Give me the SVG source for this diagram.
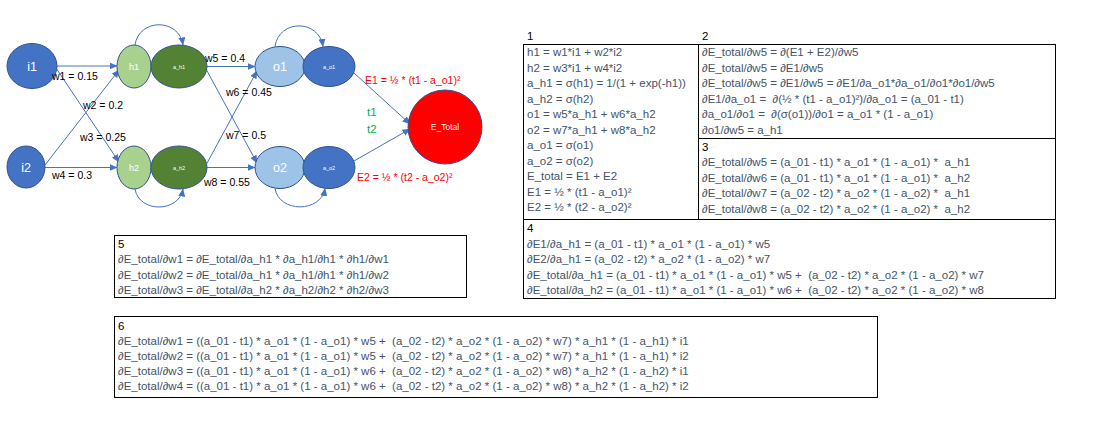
<svg xmlns="http://www.w3.org/2000/svg" width="1096" height="429" viewBox="0 0 1096 429">
<defs>
<marker id="arr" markerWidth="8" markerHeight="7" refX="7.5" refY="3.5" orient="auto" markerUnits="userSpaceOnUse"><path d="M0,0 L8,3.5 L0,7 z" fill="#4472C4"/></marker>
</defs>
<style>
.nd{stroke:#2F528F;stroke-width:1}
.lb{font-family:"Liberation Sans",Arial,sans-serif;fill:#fff;text-anchor:middle}
.w{font-family:"Liberation Sans",Arial,sans-serif;font-size:10.5px;fill:#000}
.red{font-family:"Liberation Sans",Arial,sans-serif;font-size:10.5px;fill:#FF0000}
.grn{font-family:"Liberation Sans",Arial,sans-serif;font-size:11.5px;fill:#00B050}
.cn{fill:none;stroke:#4472C4;stroke-width:1;marker-end:url(#arr)}
.bx{fill:none;stroke:#000;stroke-width:1}
.bt{font-family:"Liberation Sans",Arial,sans-serif;font-size:11.5px;fill:#44546A;white-space:pre}
.nm{font-family:"Liberation Sans",Arial,sans-serif;font-size:11.5px;fill:#000}
</style>
<rect width="1096" height="429" fill="#fff"/>

<g id="connectors">
<path class="cn" d="M57,66 L117,66"/>
<path class="cn" d="M56,68 L119,162"/>
<path class="cn" d="M45,165 L119,70"/>
<path class="cn" d="M45,167.5 L117,167.5"/>
<path class="cn" d="M207,66.5 L255,66.5"/>
<path class="cn" d="M206,69 L257,163"/>
<path class="cn" d="M206,165 L257,71"/>
<path class="cn" d="M207,167.5 L255,167.5"/>
<path class="cn" d="M354,73 L410,124"/>
<path class="cn" d="M354,161 L410,129"/>
<path class="cn" d="M135,45 C139,18 179,18 183,45"/>
<path class="cn" d="M135,189 C139,213 179,213 183,189"/>
<path class="cn" d="M275,46.5 C279,19 319,19 323,46.5"/>
<path class="cn" d="M275,188.5 C279,213 321,213 325,188.5"/>
</g>

<g id="i1"><ellipse class="nd" cx="32" cy="66" rx="25" ry="22.5" fill="#4472C4"/><text class="lb" x="32" y="70.5" font-size="12.5">i1</text></g>
<g id="i2"><ellipse class="nd" cx="26" cy="167" rx="19" ry="21" fill="#4472C4"/><text class="lb" x="26" y="171.5" font-size="12.5">i2</text></g>
<g id="h1"><ellipse class="nd" cx="134" cy="66.5" rx="17" ry="21.5" fill="#A9D18E"/><text class="lb" x="134" y="69.5" font-size="9">h1</text></g>
<g id="a_h1"><ellipse class="nd" cx="179" cy="66.5" rx="28" ry="21.5" fill="#548235"/><text class="lb" x="179" y="68.5" font-size="5.5">a_h1</text></g>
<g id="h2"><ellipse class="nd" cx="134" cy="167.5" rx="17" ry="21.5" fill="#A9D18E"/><text class="lb" x="134" y="170.5" font-size="9">h2</text></g>
<g id="a_h2"><ellipse class="nd" cx="179" cy="167.5" rx="28" ry="21.5" fill="#548235"/><text class="lb" x="179" y="169.5" font-size="5.5">a_h2</text></g>
<g id="o1"><ellipse class="nd" cx="280" cy="66.5" rx="25" ry="20" fill="#9DC3E6"/><text class="lb" x="280" y="71" font-size="12.5">o1</text></g>
<g id="a_o1"><ellipse class="nd" cx="329" cy="66.5" rx="26" ry="20" fill="#4472C4"/><text class="lb" x="329" y="68.5" font-size="5.5">a_o1</text></g>
<g id="o2"><ellipse class="nd" cx="280" cy="167.5" rx="25" ry="21" fill="#9DC3E6"/><text class="lb" x="280" y="172" font-size="12.5">o2</text></g>
<g id="a_o2"><ellipse class="nd" cx="329" cy="167.5" rx="26" ry="21" fill="#4472C4"/><text class="lb" x="329" y="169.5" font-size="5.5">a_o2</text></g>
<g id="E_Total"><circle class="nd" cx="445" cy="127" r="37" fill="#FF0000"/><text class="lb" x="445" y="130" font-size="8.5">E_Total</text></g>

<g id="weights">
<text class="w" x="52" y="80">w1 = 0.15</text>
<text class="w" x="83" y="109">w2 = 0.2</text>
<text class="w" x="80" y="141">w3 = 0.25</text>
<text class="w" x="52" y="179">w4 = 0.3</text>
<text class="w" x="205" y="62">w5 = 0.4</text>
<text class="w" x="226" y="96">w6 = 0.45</text>
<text class="w" x="226" y="139">w7 = 0.5</text>
<text class="w" x="204" y="186">w8 = 0.55</text>
<text class="red" x="365" y="84">E1 = ½ * (t1 - a_o1)²</text>
<text class="red" x="357" y="181">E2 = ½ * (t2 - a_o2)²</text>
<text class="grn" x="367" y="116">t1</text>
<text class="grn" x="367" y="133">t2</text>
</g>

<g id="box1">
<text class="nm" x="527" y="40">1</text>
<text class="bt" x="527" y="56">h1 = w1*i1 + w2*i2</text>
<text class="bt" x="527" y="71.5">h2 = w3*i1 + w4*i2</text>
<text class="bt" x="527" y="87">a_h1 = σ(h1) = 1/(1 + exp(-h1))</text>
<text class="bt" x="527" y="102.5">a_h2 = σ(h2)</text>
<text class="bt" x="527" y="118">o1 = w5*a_h1 + w6*a_h2</text>
<text class="bt" x="527" y="133.5">o2 = w7*a_h1 + w8*a_h2</text>
<text class="bt" x="527" y="149">a_o1 = σ(o1)</text>
<text class="bt" x="527" y="164.5">a_o2 = σ(o2)</text>
<text class="bt" x="527" y="180">E_total = E1 + E2</text>
<text class="bt" x="527" y="195.5">E1 = ½ * (t1 - a_o1)²</text>
<text class="bt" x="527" y="211">E2 = ½ * (t2 - a_o2)²</text>
</g>
<g id="box2">
<text class="nm" x="702" y="40">2</text>
<text class="bt" x="702" y="56">∂E_total/∂w5 = ∂(E1 + E2)/∂w5</text>
<text class="bt" x="702" y="71.5">∂E_total/∂w5 = ∂E1/∂w5</text>
<text class="bt" x="702" y="87">∂E_total/∂w5 = ∂E1/∂w5 = ∂E1/∂a_o1*∂a_o1/∂o1*∂o1/∂w5</text>
<text class="bt" x="702" y="102.5">∂E1/∂a_o1 =  ∂(½ * (t1 - a_o1)²)/∂a_o1 = (a_01 - t1)</text>
<text class="bt" x="702" y="118">∂a_o1/∂o1 =  ∂(σ(o1))/∂o1 = a_o1 * (1 - a_o1)</text>
<text class="bt" x="702" y="133.5">∂o1/∂w5 = a_h1</text>
</g>
<g id="box3">
<text class="nm" x="702" y="150.5">3</text>
<text class="bt" x="702" y="166">∂E_total/∂w5 = (a_01 - t1) * a_o1 * (1 - a_o1) *  a_h1</text>
<text class="bt" x="702" y="181.5">∂E_total/∂w6 = (a_01 - t1) * a_o1 * (1 - a_o1) *  a_h2</text>
<text class="bt" x="702" y="197">∂E_total/∂w7 = (a_02 - t2) * a_o2 * (1 - a_o2) *  a_h1</text>
<text class="bt" x="702" y="212.5">∂E_total/∂w8 = (a_02 - t2) * a_o2 * (1 - a_o2) *  a_h2</text>
</g>
<g id="box4">
<text class="nm" x="527" y="232">4</text>
<text class="bt" x="527" y="247.5">∂E1/∂a_h1 = (a_01 - t1) * a_o1 * (1 - a_o1) * w5</text>
<text class="bt" x="527" y="263">∂E2/∂a_h1 = (a_02 - t2) * a_o2 * (1 - a_o2) * w7</text>
<text class="bt" x="527" y="278.5">∂E_total/∂a_h1 = (a_01 - t1) * a_o1 * (1 - a_o1) * w5 +  (a_02 - t2) * a_o2 * (1 - a_o2) * w7</text>
<text class="bt" x="527" y="294">∂E_total/∂a_h2 = (a_01 - t1) * a_o1 * (1 - a_o1) * w6 +  (a_02 - t2) * a_o2 * (1 - a_o2) * w8</text>
</g>
<g id="frame1234">
<rect class="bx" x="523.5" y="44.5" width="532" height="254"/>
<path class="bx" d="M698.5,44.5 V219.5 M698.5,138.5 H1055.5 M523.5,219.5 H1055.5"/>
</g>
<g id="box5">
<rect class="bx" x="114.5" y="235.5" width="352" height="62"/>
<text class="nm" x="118" y="247.5">5</text>
<text class="bt" x="118" y="263">∂E_total/∂w1 = ∂E_total/∂a_h1 * ∂a_h1/∂h1 * ∂h1/∂w1</text>
<text class="bt" x="118" y="278.5">∂E_total/∂w2 = ∂E_total/∂a_h1 * ∂a_h1/∂h1 * ∂h1/∂w2</text>
<text class="bt" x="118" y="294">∂E_total/∂w3 = ∂E_total/∂a_h2 * ∂a_h2/∂h2 * ∂h2/∂w3</text>
</g>
<g id="box6">
<rect class="bx" x="114.5" y="316.5" width="763" height="81"/>
<text class="nm" x="118" y="330">6</text>
<text class="bt" x="118" y="345">∂E_total/∂w1 = ((a_01 - t1) * a_o1 * (1 - a_o1) * w5 +  (a_02 - t2) * a_o2 * (1 - a_o2) * w7) * a_h1 * (1 - a_h1) * i1</text>
<text class="bt" x="118" y="360">∂E_total/∂w2 = ((a_01 - t1) * a_o1 * (1 - a_o1) * w5 +  (a_02 - t2) * a_o2 * (1 - a_o2) * w7) * a_h1 * (1 - a_h1) * i2</text>
<text class="bt" x="118" y="375">∂E_total/∂w3 = ((a_01 - t1) * a_o1 * (1 - a_o1) * w6 +  (a_02 - t2) * a_o2 * (1 - a_o2) * w8) * a_h2 * (1 - a_h2) * i1</text>
<text class="bt" x="118" y="390">∂E_total/∂w4 = ((a_01 - t1) * a_o1 * (1 - a_o1) * w6 +  (a_02 - t2) * a_o2 * (1 - a_o2) * w8) * a_h2 * (1 - a_h2) * i2</text>
</g>
</svg>
